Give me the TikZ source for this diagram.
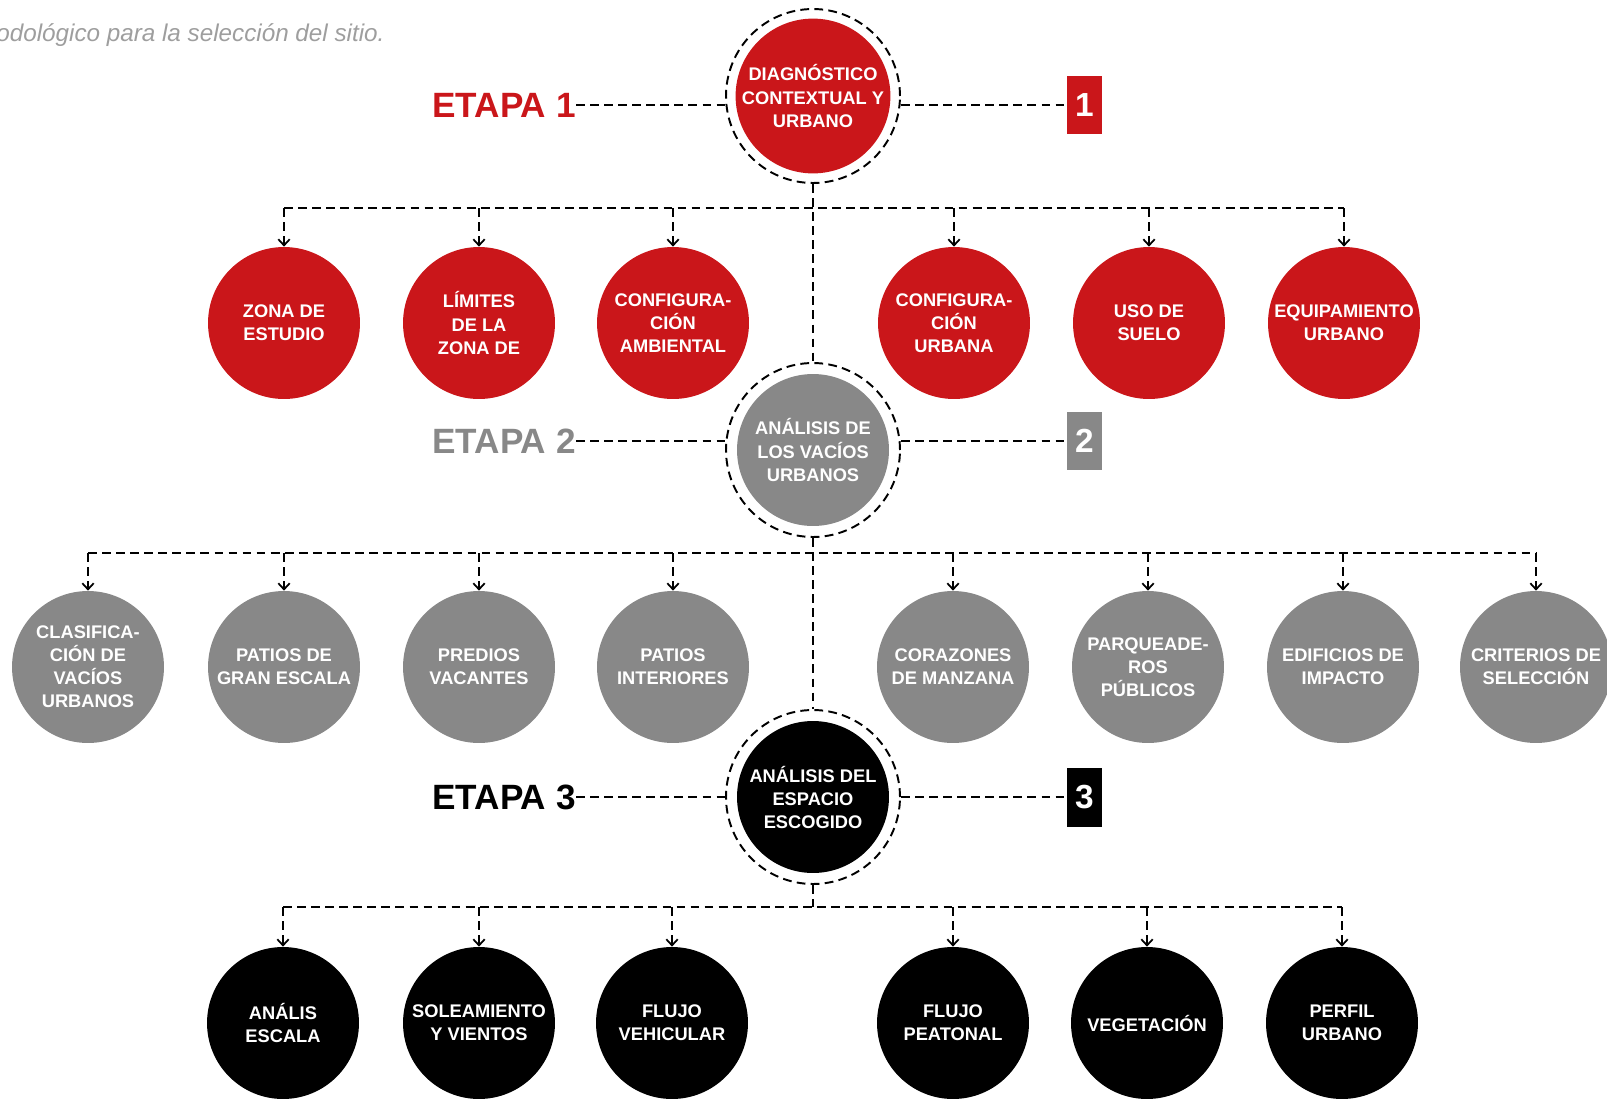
\documentclass[tikz,border=0pt]{standalone}
\usepackage{fontspec}
\setmainfont{Liberation Sans}
\usetikzlibrary{arrows.meta}

\definecolor{etapared}{RGB}{202,22,26}
\definecolor{etapagray}{RGB}{136,136,136}
\definecolor{notegray}{RGB}{158,158,158}

\begin{document}
\begin{tikzpicture}[x = 0.02cm, y = -0.02cm,
	ball/.style = {circle, minimum size = 3.04cm, inner sep = 0pt, text = white, align = center,
		font = \fontsize{10.4}{13.1}\selectfont\bfseries},
	ring/.style = {circle, draw, line width = 1.1pt, dash pattern = on 5pt off 3pt,
		minimum size = 3.48cm, inner sep = 0pt},
	etapa/.style = {anchor = east, inner sep = 0pt, font = \fontsize{20}{24}\selectfont\bfseries},
	numbox/.style = {minimum width = 0.7cm, minimum height = 1.18cm, inner sep = 0pt, text = white,
		font = \fontsize{19}{19}\selectfont\bfseries},
	link/.style = {line width = 1.1pt, dash pattern = on 5pt off 3pt},
	drop/.style = {link, -{Straight Barb[length = 3.5pt, width = 6.5pt, line width = 1pt]}}
	]
	\useasboundingbox (0,0) rectangle (1607,1099);
	
	% caption
	\node[anchor = base west, inner sep = 0pt, text = notegray, font = \fontsize{13.8}{16}\selectfont\itshape] (cap) at (-4,41) {odológico para la selección del sitio.};
	
	% stages
	\node[ball, fill = etapared] (d1) at (813,96) {DIAGNÓSTICO\\CONTEXTUAL Y\\URBANO};
	\node[ring] (r1) at (813,96) {};
	\node[ball, fill = etapagray] (d2) at (813,450) {ANÁLISIS DE\\LOS VACÍOS\\URBANOS};
	\node[ring] (r2) at (813,450) {};
	\node[ball, fill = black] (d3) at (813,797) {ANÁLISIS DEL\\ESPACIO\\ESCOGIDO};
	\node[ring] (r3) at (813,797) {};
	
	\node[etapa, text = etapared] (e1) at (576,105) {ETAPA 1};
	\node[etapa, text = etapagray] (e2) at (576,441) {ETAPA 2};
	\node[etapa, text = black] (e3) at (576,797) {ETAPA 3};
	
	\node[numbox, fill = etapared] (n1) at (1084.5,105) {1};
	\node[numbox, fill = etapagray] (n2) at (1084.5,441) {2};
	\node[numbox, fill = black] (n3) at (1084.5,797) {3};
	
	\foreach \i in {1,2,3}{
		\draw[link] (e\i.east) -- (e\i.east -| r\i.west);
		\draw[link] (n\i.west -| r\i.east) -- (n\i.west);
	}
	
	% etapa 1
	\foreach \x/\txt [count = \i] in {284/{ZONA DE\\ESTUDIO}, 479/{LÍMITES\\DE LA\\ZONA DE},
		673/{CONFIGURA-\\CIÓN\\AMBIENTAL}, 954/{CONFIGURA-\\CIÓN\\URBANA},
		1149/{USO DE\\SUELO}, 1344/{EQUIPAMIENTO\\URBANO}}{
		\node[ball, fill = etapared] (a\i) at (\x,323) {\txt};
	}
	
	% etapa 2
	\foreach \x/\txt [count = \i] in {88/{CLASIFICA-\\CIÓN DE\\VACÍOS\\URBANOS}, 284/{PATIOS DE\\GRAN ESCALA},
		479/{PREDIOS\\VACANTES}, 673/{PATIOS\\INTERIORES}, 953/{CORAZONES\\DE MANZANA},
		1148/{PARQUEADE-\\ROS\\PÚBLICOS}, 1343/{EDIFICIOS DE\\IMPACTO}, 1536/{CRITERIOS DE\\SELECCIÓN}}{
		\node[ball, fill = etapagray] (v\i) at (\x,667) {\txt};
	}
	
	% etapa 3
	\foreach \x/\txt [count = \i] in {283/{ANÁLIS\\ESCALA}, 479/{SOLEAMIENTO\\Y VIENTOS},
		672/{FLUJO\\VEHICULAR}, 953/{FLUJO\\PEATONAL}, 1147/{VEGETACIÓN}, 1342/{PERFIL\\URBANO}}{
		\node[ball, fill = black] (s\i) at (\x,1023) {\txt};
	}
	
	% connectors
	\coordinate (b1) at (813,208);
	\coordinate (b2) at (813,553);
	\coordinate (b3) at (813,907);
	
	\draw[link] (r1.south) -- (r2.north);
	\draw[link] (r2.south) -- (r3.north);
	\draw[link] (r3.south) -- (b3);
	
	\draw[link] (a1.north |- b1) -- (a6.north |- b1);
	\draw[link] (v1.north |- b2) -- (v8.north |- b2);
	\draw[link] (s1.north |- b3) -- (s6.north |- b3);
	
	\foreach \i in {1,...,6}{
		\draw[drop] (a\i.north |- b1) -- (a\i.north);
		\draw[drop] (s\i.north |- b3) -- (s\i.north);
	}
	\foreach \i in {1,...,8}{
		\draw[drop] (v\i.north |- b2) -- (v\i.north);
	}
	
\end{tikzpicture}
\end{document}
